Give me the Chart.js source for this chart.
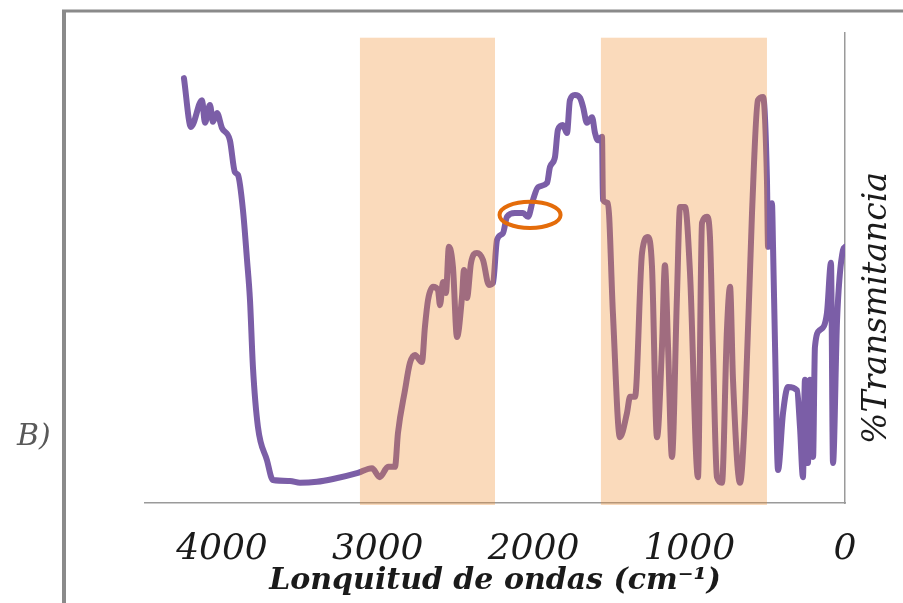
<!DOCTYPE html>
<html>
<head>
<meta charset="utf-8">
<script src="https://cdn.jsdelivr.net/npm/chart.js@4.4.1/dist/chart.umd.min.js"></script>
<style>
  html, body { margin: 0; padding: 0; background: #fff; }
  canvas { display: block; }
</style>
</head>
<body>
<canvas id="ir" width="903" height="603"></canvas>
<script>
// wavenumber (cm-1) of each sample, read from high to low
const wavenumbers = [
  4244, 4199, 4128, 4109, 4077, 4058, 4032, 4000, 3949, 3917, 3897, 3865, 3839, 3820,
  3801, 3769, 3711, 3673, 3563, 3499, 3390, 3287, 3127, 3037, 2986, 2934, 2889, 2870,
  2825, 2793, 2761, 2716, 2697, 2677, 2645, 2613, 2600, 2581, 2562, 2543, 2517, 2491,
  2459, 2446, 2427, 2401, 2363, 2324, 2286, 2260, 2234, 2196, 2170, 2119, 2067, 2035,
  2003, 1971, 1913, 1894, 1862, 1843, 1811, 1785, 1766, 1734, 1701, 1682, 1657, 1624,
  1605, 1586, 1560, 1554, 1522, 1490, 1445, 1400, 1380, 1348, 1303, 1265, 1239, 1207,
  1175, 1156, 1136, 1111, 1079, 1059, 1027, 995, 944, 918, 886, 867, 848, 822,
  790, 758, 738, 719, 674, 642, 597, 559, 526, 501, 494, 469, 462, 449,
  430, 398, 366, 308, 289, 270, 257, 238, 225, 205, 193, 161, 116, 90,
  77, 51, 13, 0
];

// % transmittance at each wavenumber
const transmittance = [
  90.4, 80.0, 85.7, 80.9, 84.7, 81.1, 83.0, 79.8, 77.2, 70.4, 69.8, 62.3, 51.7, 43.2,
  28.9, 16.2, 9.1, 4.9, 4.7, 4.3, 4.5, 5.1, 6.4, 7.4, 5.5, 7.7, 7.7, 14.9,
  24.0, 29.8, 31.5, 30.0, 37.4, 43.2, 46.0, 45.3, 42.1, 47.0, 44.7, 54.5, 50.2, 35.3,
  43.8, 49.6, 43.6, 51.1, 53.2, 51.7, 46.4, 46.8, 56.0, 57.4, 60.9, 61.7, 61.7, 60.9,
  64.5, 67.2, 68.1, 71.5, 73.6, 79.4, 80.4, 78.7, 85.7, 86.8, 86.2, 84.3, 80.9, 82.1,
  78.7, 77.2, 77.9, 64.5, 63.8, 40.4, 14.0, 19.1, 22.6, 22.6, 53.2, 56.6, 50.2, 14.0,
  33.2, 50.6, 33.2, 9.8, 43.8, 63.0, 63.0, 48.9, 5.5, 59.6, 60.9, 56.6, 33.2, 5.5,
  4.3, 36.8, 46.0, 26.2, 4.3, 19.1, 61.7, 85.7, 86.4, 68.7, 54.5, 63.8, 54.5, 33.2,
  7.0, 19.1, 24.7, 24.0, 16.2, 5.5, 26.2, 8.5, 26.2, 9.8, 33.2, 36.8, 40.4, 51.1,
  8.5, 38.9, 53.8, 54.5
];

const xTickValues = [4000, 3000, 2000, 1000, 0];

// highlighted absorption regions [from, to] in cm-1
const bands = [[3114, 2247], [1567, 501]];

// marked feature: centre (cm-1, %T) and half-axes in the same units
const marker = { x: 2022, y: 61.3, rx: 196, ry: 2.8 };

const points = wavenumbers.map((w, i) => ({ x: w, y: transmittance[i] }));

const decorations = {
  id: 'decorations',
  beforeDraw(chart) {
    const ctx = chart.ctx;
    ctx.save();
    ctx.strokeStyle = '#8a8a8a';
    ctx.lineWidth = 4;
    ctx.beginPath();
    ctx.moveTo(64, 603);
    ctx.lineTo(64, 11);
    ctx.stroke();
    ctx.lineWidth = 3;
    ctx.beginPath();
    ctx.moveTo(62, 11);
    ctx.lineTo(903, 11);
    ctx.stroke();
    ctx.restore();
  },
  afterDraw(chart) {
    const ctx = chart.ctx;
    const xs = chart.scales.x;
    const ys = chart.scales.y;
    ctx.save();

    // translucent shading over the line and axis
    ctx.fillStyle = 'rgba(238, 140, 44, 0.32)';
    const top = ys.getPixelForValue(99);
    const bottom = ys.getPixelForValue(0) + 2;
    bands.forEach(([a, b]) => {
      const x1 = xs.getPixelForValue(a);
      const x2 = xs.getPixelForValue(b);
      ctx.fillRect(x1, top, x2 - x1, bottom - top);
    });

    // ring around the feature near 2000 cm-1
    const cx = xs.getPixelForValue(marker.x);
    const cy = ys.getPixelForValue(marker.y);
    const rx = Math.abs(xs.getPixelForValue(marker.x - marker.rx) - cx);
    const ry = Math.abs(ys.getPixelForValue(marker.y + marker.ry) - cy);
    ctx.strokeStyle = '#e46c0a';
    ctx.lineWidth = 4;
    ctx.beginPath();
    ctx.ellipse(cx, cy, rx, ry, 0, 0, Math.PI * 2);
    ctx.stroke();

    // vertical axis title, reading upwards
    ctx.fillStyle = '#1a1a1a';
    ctx.font = 'italic 33px "DejaVu Serif"';
    ctx.textAlign = 'center';
    ctx.textBaseline = 'alphabetic';
    ctx.translate(886, 308);
    ctx.rotate(-Math.PI / 2);
    ctx.fillText('%Transmitancia', 0, 0);
    ctx.setTransform(1, 0, 0, 1, 0, 0);

    // panel label
    ctx.fillStyle = '#595959';
    ctx.font = 'italic 30px "DejaVu Serif"';
    ctx.textAlign = 'left';
    ctx.fillText('B)', 17, 445);
    ctx.restore();
  }
};

new Chart(document.getElementById('ir'), {
  type: 'line',
  data: {
    datasets: [{
      data: points,
      borderColor: '#7b5ea7',
      borderWidth: 6,
      borderCapStyle: 'round',
      borderJoinStyle: 'round',
      cubicInterpolationMode: 'monotone',
      pointRadius: 0,
      fill: false
    }]
  },
  options: {
    responsive: false,
    animation: false,
    layout: { padding: { left: 145, top: 33, right: 0, bottom: 0 } },
    plugins: {
      legend: { display: false },
      tooltip: { enabled: false }
    },
    scales: {
      x: {
        type: 'linear',
        reverse: true,
        min: 0,
        max: 4494,
        afterBuildTicks: (scale) => {
          scale.ticks = xTickValues.map((v) => ({ value: v }));
        },
        afterFit: (scale) => { scale.height = 100; },
        grid: { display: false, drawTicks: false },
        border: { display: true, color: '#9a9a9a', width: 1.5 },
        ticks: {
          autoSkip: false,
          maxRotation: 0,
          padding: 25,
          color: '#1a1a1a',
          callback: (v) => String(v),
          font: { family: 'DejaVu Serif', style: 'italic', size: 36 }
        },
        title: {
          display: true,
          text: 'Lonquitud de ondas (cm⁻¹)',
          color: '#1a1a1a',
          padding: { top: 0, bottom: 4 },
          font: { family: 'DejaVu Serif', style: 'italic', weight: 'bold', size: 30 }
        }
      },
      y: {
        position: 'right',
        min: 0,
        max: 100,
        afterFit: (scale) => { scale.width = 58; },
        grid: { display: false, drawTicks: false },
        border: { display: true, color: '#9a9a9a', width: 1.5 },
        ticks: { display: false }
      }
    }
  },
  plugins: [decorations]
});
</script>
</body>
</html>
